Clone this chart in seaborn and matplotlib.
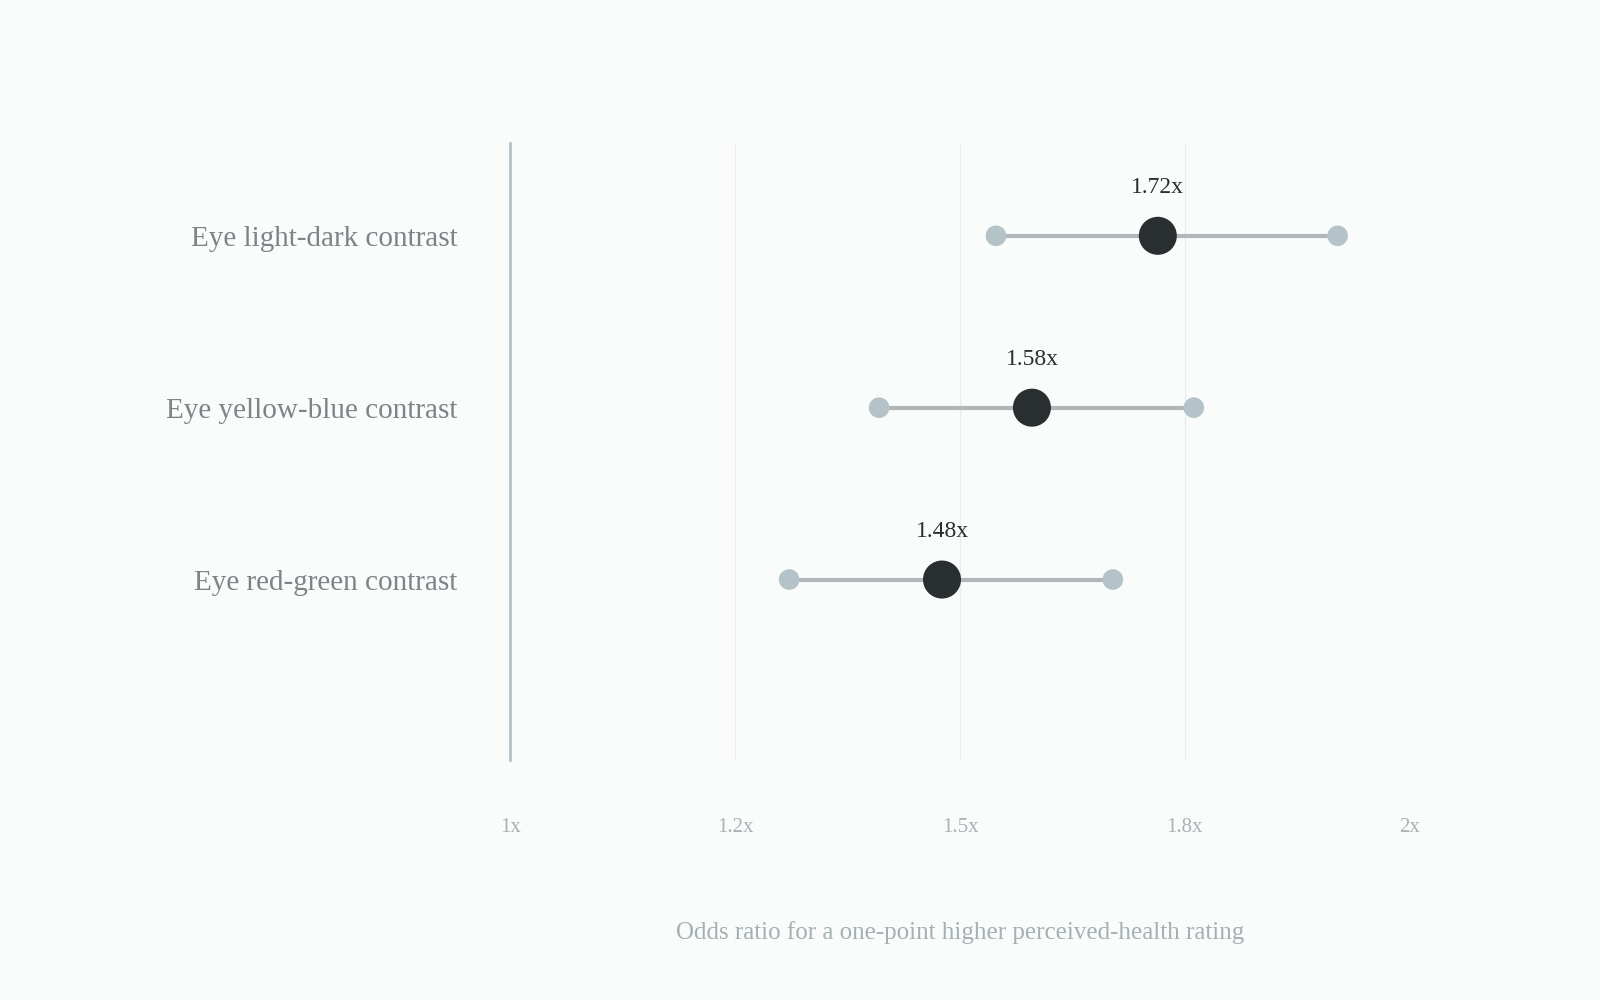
import matplotlib.pyplot as plt
import seaborn as sns
import pandas as pd

features = ["Eye light-dark contrast", "Eye yellow-blue contrast", "Eye red-green contrast"]
odds = [1.72, 1.58, 1.48]
ci_low = [1.54, 1.41, 1.31]
ci_high = [1.92, 1.76, 1.67]
tick_vals = [1.0, 1.25, 1.5, 1.75, 2.0]
tick_labels = ["1x", "1.2x", "1.5x", "1.8x", "2x"]

df = pd.DataFrame({"feature": features, "odds": odds, "lo": ci_low, "hi": ci_high})
df["y"] = range(len(df))

bg = "#fafbfb"
sns.set_theme(style="white")
plt.rcParams["font.family"] = ["Liberation Serif", "DejaVu Serif"]

fig = plt.figure(figsize=(16, 10), dpi=100, facecolor=bg)
ax = fig.add_axes([0.319, 0.24, 0.562, 0.617], facecolor=bg)

for v in tick_vals[1:]:
    ax.axvline(v, color="#ececec", lw=1, zorder=0)

ax.hlines(df["y"], df["lo"], df["hi"], color="#b3b6b8", lw=3, zorder=1)
ends = pd.concat([df[["lo", "y"]].rename(columns={"lo": "x"}),
                  df[["hi", "y"]].rename(columns={"hi": "x"})])
sns.scatterplot(data=ends, x="x", y="y", ax=ax, s=220, color="#b4c3c8",
                edgecolor="none", zorder=2)
sns.scatterplot(data=df, x="odds", y="y", ax=ax, s=750, color="#292e30",
                edgecolor="none", zorder=3)
for _, r in df.iterrows():
    ax.text(r["odds"], r["y"] - 0.22, f"{r['odds']:.2f}x", ha="center", va="bottom",
            fontsize=17, color="#292e30")

ax.set_xlim(1, 2)
ax.set_ylim(3.05, -0.54)
ax.set_yticks(df["y"], features, fontsize=21, color="#7d8487")
ax.set_xticks(tick_vals, tick_labels, fontsize=15, color="#a9b2b5")
ax.tick_params(axis="x", pad=42, length=0)
ax.tick_params(axis="y", pad=38, length=0)
ax.set_xlabel("Odds ratio for a one-point higher perceived-health rating",
              fontsize=18, color="#a4b0b3", labelpad=60)
ax.set_ylabel("")
for s in ["top", "right", "bottom"]:
    ax.spines[s].set_visible(False)
ax.spines["left"].set_color("#b4c3c8")
ax.spines["left"].set_linewidth(2)
ax.set_clip_on(False)

fig.savefig("out.png", facecolor=bg)
